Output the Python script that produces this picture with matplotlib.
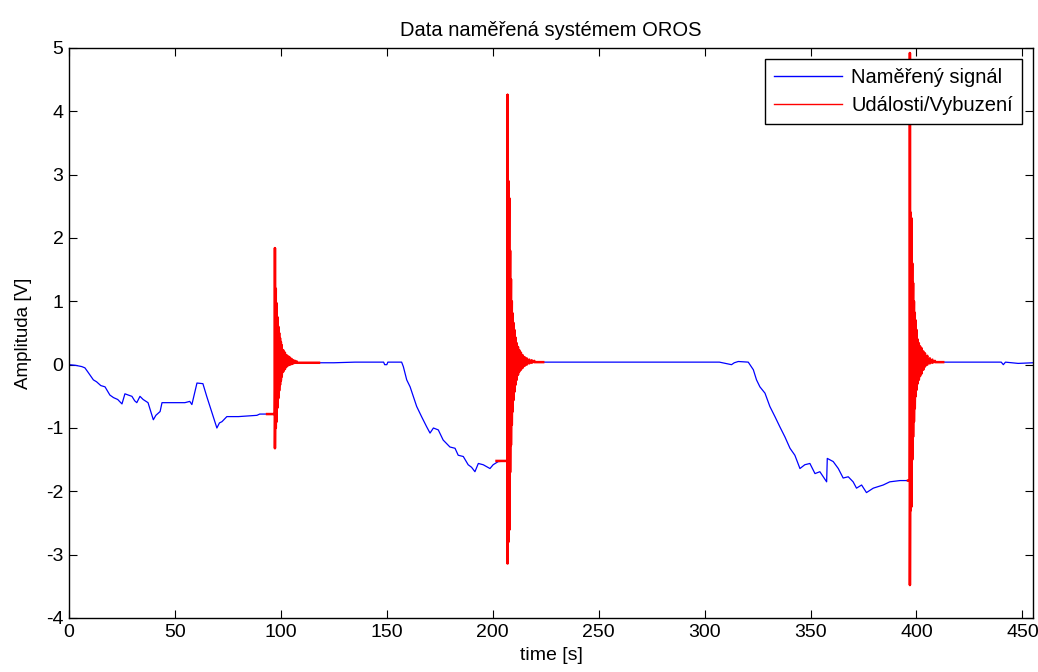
import numpy as np
import matplotlib.pyplot as plt

plt.rcParams['font.family'] = ['Liberation Sans', 'DejaVu Sans']
plt.rcParams['axes.unicode_minus'] = False

sig_t = [0, 3, 6, 7.5, 9, 11.5, 13, 15, 17, 19.3, 21, 23, 25, 26.4, 28, 29.7, 31, 32,
         33.5, 35, 37.3, 39.8, 41, 43, 43.9, 50, 54.7, 57, 58, 60.4, 63.2, 65, 67.5,
         69.8, 71, 72.2, 74.5, 80, 88.7, 90, 97.2, 97.2,
         118, 125, 135, 148.5, 149, 150, 150.5, 157, 157.8, 159.4, 161, 162.5, 164.1,
         166.4, 168.8, 170.4, 172, 174.3, 176.6, 179.8, 182.2, 183.7, 186.1, 188.4,
         190, 191.6, 193.2, 195.5, 198.7, 200.2, 202.6, 207.0, 207.0,
         224, 260, 300, 307, 312.7, 314, 315.9, 320.6, 323, 324.5, 326.1, 328.5,
         330.8, 333.2, 335.5, 337.9, 340.3, 342.6, 345, 347.3, 349.7, 352.1, 354.4,
         357.6, 357.9, 360.7, 363.1, 365.4, 367.8, 370.1, 371.7, 374.1, 376.4, 379.6,
         384.3, 387.4, 392.2, 396.9, 396.9,
         412.6, 440, 441, 442, 448, 455]
sig_v = [0, -0.01, -0.03, -0.05, -0.12, -0.24, -0.27, -0.33, -0.35, -0.48, -0.52,
         -0.55, -0.62, -0.46, -0.48, -0.5, -0.57, -0.6, -0.5, -0.55, -0.6, -0.87, -0.8,
         -0.74, -0.6, -0.6, -0.6, -0.58, -0.63, -0.29, -0.3, -0.5, -0.76, -1.0, -0.92,
         -0.9, -0.82, -0.82, -0.8, -0.78, -0.78, 0.03,
         0.03, 0.03, 0.04, 0.04, 0.0, 0.0, 0.04, 0.04, -0.03, -0.24, -0.35, -0.5,
         -0.66, -0.82, -0.98, -1.08, -1.0, -1.03, -1.19, -1.3, -1.32, -1.43, -1.45,
         -1.58, -1.62, -1.69, -1.56, -1.58, -1.64, -1.58, -1.53, -1.52, 0.04,
         0.04, 0.04, 0.04, 0.04, 0.0, 0.03, 0.05, 0.04, -0.08, -0.24, -0.35, -0.45,
         -0.66, -0.82, -0.98, -1.14, -1.32, -1.43, -1.64, -1.58, -1.56, -1.72, -1.69,
         -1.85, -1.48, -1.53, -1.64, -1.79, -1.77, -1.85, -1.95, -1.9, -2.02, -1.95,
         -1.9, -1.85, -1.83, -1.83, 0.04,
         0.04, 0.04, 0.0, 0.04, 0.02, 0.03]

# events (red): start of window, level before hit, peak envelope, end of window
ev_start = [93.5, 201.8, 396.0]
ev_pre = [-0.78, -1.52, -1.83]
ev_end = [118.0, 223.8, 412.6]
ev_rest = [0.03, 0.04, 0.04]

ev1_t = [97.2, 97.6, 98.0, 98.4, 98.8, 99.2, 99.6, 100.0, 100.4, 101.1, 101.9,
         102.7, 103.5, 104.3, 105.1, 105.9, 106.7, 107.5]
ev1_hi = [1.84, 1.2, 0.97, 0.75, 0.60, 0.50, 0.42, 0.36, 0.31, 0.23, 0.19, 0.15,
          0.13, 0.11, 0.09, 0.07, 0.06, 0.05]
ev1_lo = [-1.32, -1.0, -0.90, -0.68, -0.53, -0.41, -0.32, -0.25, -0.19, -0.11,
          -0.07, -0.03, -0.01, 0.0, 0.01, 0.02, 0.03, 0.03]

ev2_t = [207.0, 207.4, 207.8, 208.2, 208.6, 209.0, 209.4, 209.8, 210.2, 210.7,
         211.3, 211.9, 212.5, 213.3, 214.1, 215.0, 216.0, 217.2, 218.4, 219.6]
ev2_hi = [4.26, 2.9, 2.63, 1.8, 1.35, 1.0, 0.81, 0.66, 0.55, 0.43, 0.34, 0.28,
          0.23, 0.19, 0.15, 0.12, 0.10, 0.08, 0.07, 0.06]
ev2_lo = [-3.14, -2.8, -2.61, -1.7, -1.27, -0.95, -0.74, -0.56, -0.43, -0.32,
          -0.24, -0.16, -0.11, -0.08, -0.05, -0.02, 0.0, 0.02, 0.03, 0.04]

ev3_t = [396.9, 397.3, 397.7, 398.0, 398.4, 398.8, 399.2, 399.6, 400.0, 400.5,
         401.1, 401.7, 402.4, 403.2, 404.0, 405.1, 406.3, 407.5, 408.7]
ev3_hi = [4.92, 2.4, 2.31, 1.6, 1.29, 1.0, 0.82, 0.7, 0.55, 0.40, 0.34, 0.29,
          0.26, 0.21, 0.18, 0.14, 0.10, 0.08, 0.06]
ev3_lo = [-3.48, -2.3, -2.24, -1.5, -1.14, -0.9, -0.69, -0.5, -0.40, -0.30, -0.24,
          -0.18, -0.14, -0.08, -0.03, 0.0, 0.02, 0.03, 0.04]

fig = plt.figure(figsize=(10.38, 6.72), dpi=100)
ax = fig.add_axes([69/1038, 1 - 618/672, (1033 - 69)/1038, (618 - 48)/672])

ax.plot(sig_t, sig_v, color='#0000ff', lw=0.9, label='Naměřený signál')

events = [(ev1_t, ev1_hi, ev1_lo), (ev2_t, ev2_hi, ev2_lo), (ev3_t, ev3_hi, ev3_lo)]
for i, (t, hi, lo) in enumerate(events):
    # zigzag between the read upper and lower peaks
    zt = np.repeat(t, 2)
    zv = np.column_stack([hi, lo]).ravel()
    xs = np.concatenate([[ev_start[i], t[0]], zt, [ev_end[i]]])
    ys = np.concatenate([[ev_pre[i], ev_pre[i]], zv, [ev_rest[i]]])
    ax.plot(xs, ys, color='#ff0000', lw=1.8,
            label='Události/Vybuzení' if i == 0 else None)

ax.set_xlim(0, 455)
ax.set_ylim(-4, 5)
ax.set_xticks(np.arange(0, 451, 50))
ax.set_yticks(np.arange(-4, 6, 1))
ax.tick_params(direction='in', top=True, right=True, length=5.5, width=0.8,
               labelsize=14, pad=4)
for s in ax.spines.values():
    s.set_linewidth(1.0)

ax.set_title('Data naměřená systémem OROS', fontsize=14.5, pad=9)
ax.set_xlabel('time [s]', fontsize=14, labelpad=5)
ax.set_ylabel('Amplituda [V]', fontsize=13.5, labelpad=10)

leg = ax.legend(loc='upper right', fontsize=14.5, fancybox=False, framealpha=1,
                edgecolor='black', borderaxespad=0.55, handlelength=3.4,
                handletextpad=0.45, labelspacing=0.45, borderpad=0.45)
leg.get_frame().set_linewidth(1.0)
for h in leg.get_lines():
    h.set_linewidth(1.0)

fig.savefig('out.png', dpi=100)
